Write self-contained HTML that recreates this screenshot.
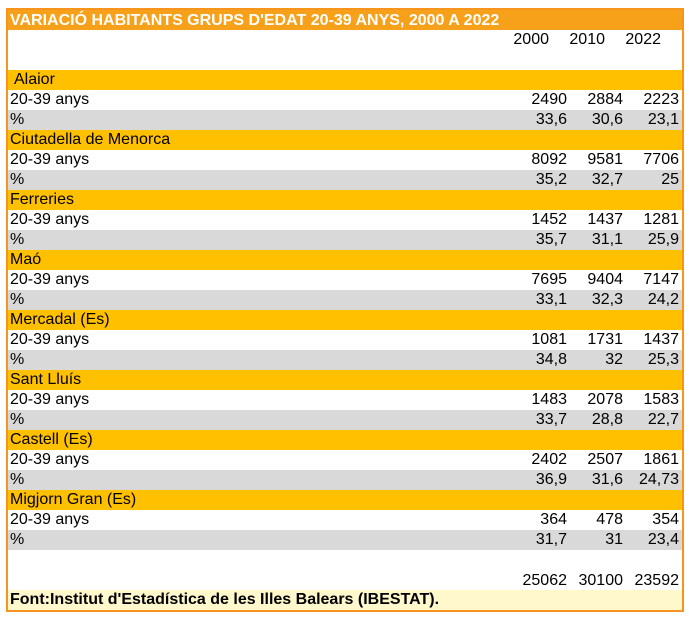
<!DOCTYPE html>
<html><head><meta charset="utf-8"><style>
body{margin:0;width:689px;height:619px;background:#fff;position:relative;font-family:"Liberation Sans",sans-serif;font-size:16px;color:#000}
#t{position:absolute;left:6px;top:8px;width:674px;height:600px;border:2px solid #F7941D;overflow:hidden}
.r{position:absolute;left:0;width:674px;height:20px;line-height:20px}
.l{position:absolute;left:2px}
.v{position:absolute;text-align:right;width:60px}
</style></head><body>
<div id="t">
<div class="r" style="top:0;background:#F7A11A;color:#fff;font-weight:bold;font-size:16px;line-height:21px"><span class="l">VARIACIÓ HABITANTS GRUPS D'EDAT 20-39 ANYS, 2000 A 2022</span></div>
<div class="r" style="top:20px">
<span class="v" style="left:481px">2000</span><span class="v" style="left:537px">2010</span><span class="v" style="left:593px">2022</span></div>
<div id="rows"></div>
<div class="r" style="top:561px">
<span class="v" style="left:499px">25062</span><span class="v" style="left:555px">30100</span><span class="v" style="left:611px">23592</span></div>
<div class="r" style="top:580px;background:#FFF8CC;font-weight:bold;font-size:16px"><span class="l">Font:Institut d'Estadística de les Illes Balears (IBESTAT).</span></div>
</div>
<script>
const towns=["Alaior","Ciutadella de Menorca","Ferreries","Maó","Mercadal (Es)","Sant Lluís","Castell (Es)","Migjorn Gran (Es)"];
const pop=[[2490,2884,2223],[8092,9581,7706],[1452,1437,1281],[7695,9404,7147],[1081,1731,1437],[1483,2078,1583],[2402,2507,1861],[364,478,354]];
const pct=[["33,6","30,6","23,1"],["35,2","32,7","25"],["35,7","31,1","25,9"],["33,1","32,3","24,2"],["34,8","32","25,3"],["33,7","28,8","22,7"],["36,9","31,6","24,73"],["31,7","31","23,4"]];
const box=document.getElementById('rows');
function row(top,bg,label,vals,name){
 const d=document.createElement('div');d.className='r';d.style.top=top+'px';d.style.background=bg;
 
 
 const s=document.createElement('span');s.className='l';s.textContent=label;if(name==='town-header'&&top===60)s.style.left='6px';d.appendChild(s);
 (vals||[]).forEach((v,i)=>{const c=document.createElement('span');c.className='v';c.style.left=(499+56*i)+'px';c.textContent=v;d.appendChild(c);});
 box.appendChild(d);
}
towns.forEach((t,i)=>{
 const y=60+i*60;
 row(y,'#FFC000',t,null,'town-header');
 row(y+20,'#fff','20-39 anys',pop[i],'population-row');
 row(y+40,'#D9D9D9','%',pct[i],'percent-row');
});
</script>
</body></html>
